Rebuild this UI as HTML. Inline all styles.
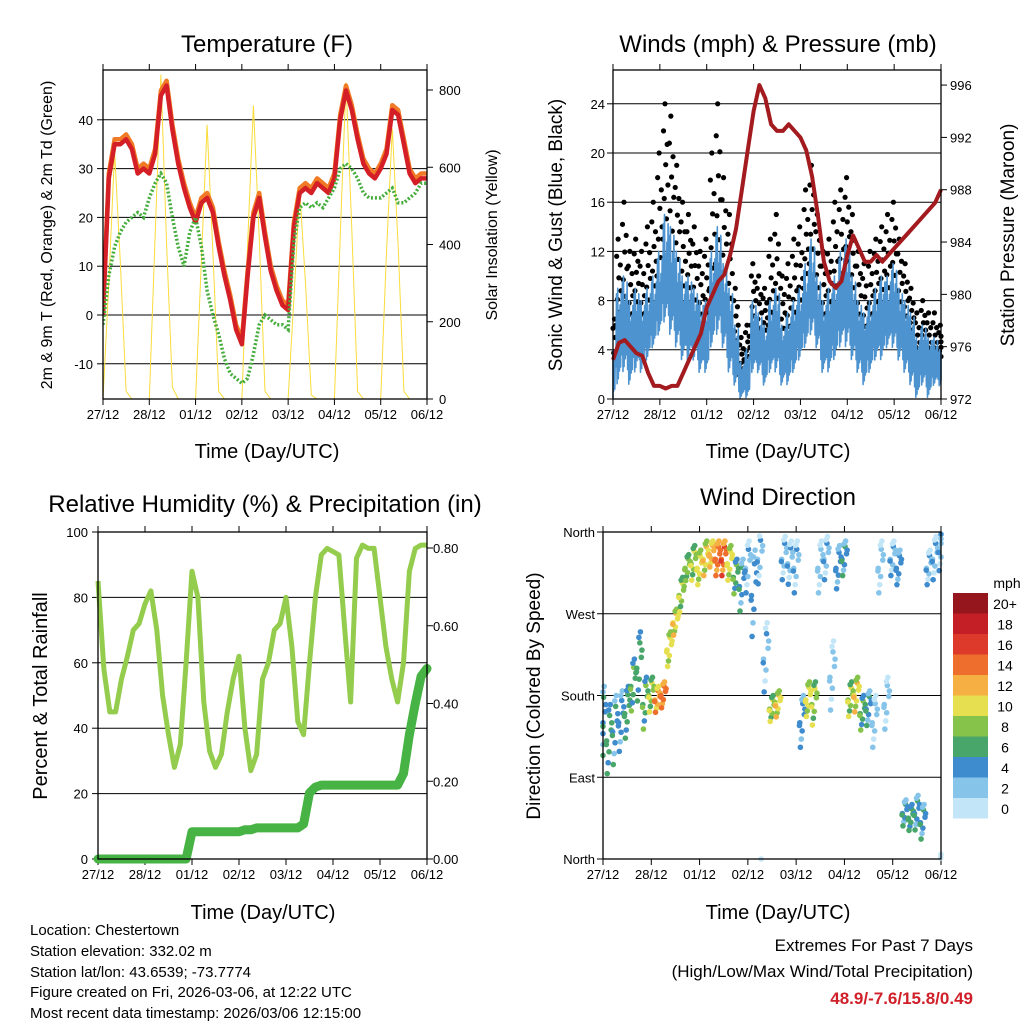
<!DOCTYPE html>
<html><head><meta charset="utf-8"><style>
html,body{margin:0;padding:0;background:#fff;}
svg{display:block;font-family:"Liberation Sans",sans-serif;}
</style></head><body>
<svg id="chart" width="1024" height="1024" viewBox="0 0 1024 1024" xmlns="http://www.w3.org/2000/svg">
<rect width="1024" height="1024" fill="#fff"/>
<g id="p1"></g>
<g id="p2"></g>
<g id="p3"></g>
<g id="p4"></g>
<text x="267" y="52" font-size="24" text-anchor="middle">Temperature (F)</text>
<text x="778" y="52" font-size="24" text-anchor="middle">Winds (mph) &amp; Pressure (mb)</text>
<text x="265" y="512" font-size="24" text-anchor="middle">Relative Humidity (%) &amp; Precipitation (in)</text>
<text x="778" y="505" font-size="24" text-anchor="middle">Wind Direction</text>
<text x="267" y="458" font-size="20" text-anchor="middle">Time (Day/UTC)</text>
<text x="778" y="458" font-size="20" text-anchor="middle">Time (Day/UTC)</text>
<text x="263" y="919" font-size="20" text-anchor="middle">Time (Day/UTC)</text>
<text x="778" y="919" font-size="20" text-anchor="middle">Time (Day/UTC)</text>
<text transform="translate(52,235) rotate(-90)" font-size="16" text-anchor="middle">2m &amp; 9m T (Red, Orange) &amp; 2m Td (Green)</text>
<text transform="translate(497,235) rotate(-90)" font-size="16" text-anchor="middle">Solar Insolation (Yellow)</text>
<text transform="translate(562,235) rotate(-90)" font-size="19" text-anchor="middle">Sonic Wind &amp; Gust (Blue, Black)</text>
<text transform="translate(1014,235) rotate(-90)" font-size="19" text-anchor="middle">Station Pressure (Maroon)</text>
<text transform="translate(47,696) rotate(-90)" font-size="20" text-anchor="middle">Percent &amp; Total Rainfall</text>
<text transform="translate(540,696) rotate(-90)" font-size="19" text-anchor="middle">Direction (Colored By Speed)</text>
<g font-size="15">
<text x="30" y="935">Location: Chestertown</text>
<text x="30" y="956">Station elevation: 332.02 m</text>
<text x="30" y="977">Station lat/lon: 43.6539; -73.7774</text>
<text x="30" y="997">Figure created on Fri, 2026-03-06, at 12:22 UTC</text>
<text x="30" y="1018">Most recent data timestamp: 2026/03/06 12:15:00</text>
</g>
<g text-anchor="end">
<text x="973" y="951" font-size="17">Extremes For Past 7 Days</text>
<text x="973" y="977" font-size="17">(High/Low/Max Wind/Total Precipitation)</text>
<text x="973" y="1004" font-size="17" font-weight="bold" fill="#d0202a">48.9/-7.6/15.8/0.49</text>
</g>
</svg>
<script>
const dayLabels=["27/12","28/12","01/12","02/12","03/12","04/12","05/12","06/12"];
const tempT=[0,28,35,35,36,34,29,30,29,33,45,47,38,31,26,22,19,23,24,21,14,8,3,-3,-6,8,20,24,16,9,5,2,1,18,25,26,25,27,26,25,28,40,46,42,36,31,29,28,30,33,42,41,35,29,27,28,28];
const tempT9=[1,29,36,36,37,35,30,31,30,34,46,48,39,32,27,23,20,24,25,22,15,9,4,-2,-5,9,21,25,17,10,6,3,2,19,26,27,26,28,27,26,29,41,47,43,37,32,30,29,31,34,43,42,36,30,28,29,29];
const dewT=[-2,8,14,17,19,20,21,20,24,27,29,27,20,14,10,17,20,14,5,0,-4,-9,-12,-13,-14,-13,-8,-2,0,-1,-2,-2,-3,15,22,23,22,23,22,24,26,30,31,30,28,25,24,24,24,25,26,23,23,24,25,27,27];
const solar=[0,300,640,350,20,0,0,0, 0,420,840,400,30,0,0,0, 0,360,710,380,20,0,0,0, 0,400,760,420,20,0,0,0, 0,260,540,300,10,0,0,0, 0,420,820,440,20,0,0,0, 0,380,700,400,20,0,0,0, 0];
const pressure=[975,976.3,976.5,976,975.5,975.3,974,973,973,972.8,973,973,974,975,976,977,979,980,981,981.5,983,985,988,991,994,996,995,993,992.5,992.5,993,992.5,992,991,989,986,982.5,981,980.5,981,983,984.5,983.5,982.5,982.5,983,982.5,983,983.5,984,984.5,985,985.5,986,986.5,987,988];
const windHi=[4,9,10,8,9,8,9,10,12,15,14,12,10,10,9,8,8,12,14,11,9,6,3,4,8,7,6,8,9,6,7,8,9,11,13,10,8,9,10,12,13,10,8,7,8,9,10,10,11,9,8,7,5,6,5,5,4];
const windLo=[0,1,2,1,2,2,3,4,5,6,5,4,3,3,3,2,2,4,5,4,2,1,0,0,2,2,1,2,2,1,1,2,3,4,5,4,2,2,3,4,4,3,2,1,2,3,3,4,4,3,2,1,0,1,0,1,1];
const gustHi=[8,13,16,12,13,12,14,16,20,24,23,19,16,15,14,12,13,20,24,18,15,9,5,6,11,10,9,13,15,10,11,13,14,17,19,15,12,13,16,17,18,15,12,11,12,13,14,15,16,13,11,9,7,8,7,7,6];
const gustLo=[3,6,7,6,7,6,7,8,10,13,12,10,8,8,7,6,6,9,11,9,7,4,2,3,6,5,5,6,7,5,5,6,7,9,11,8,6,7,8,9,10,8,6,5,6,7,8,8,9,7,6,5,3,4,3,3,3];
const rh=[85,58,45,45,55,62,70,72,78,82,70,50,38,28,35,60,88,80,48,33,28,32,45,55,62,40,27,32,55,60,70,72,80,65,42,38,60,80,93,95,94,93,70,48,92,96,95,95,80,65,55,48,60,88,95,96,96];
const precip=[0,0,0,0,0,0,0,0,0,0,0,0,0,0,0,0,0.07,0.07,0.07,0.07,0.07,0.07,0.07,0.07,0.07,0.075,0.075,0.08,0.08,0.08,0.08,0.08,0.08,0.08,0.08,0.09,0.17,0.185,0.19,0.19,0.19,0.19,0.19,0.19,0.19,0.19,0.19,0.19,0.19,0.19,0.19,0.19,0.22,0.32,0.4,0.47,0.49];
const dirC=[150,130,140,150,160,190,210,170,180,175,180,230,260,290,320,325,320,330,335,330,330,325,310,300,320,290,330,220,165,170,330,325,320,150,175,170,320,330,200,320,330,175,180,160,165,150,320,170,330,320,50,45,50,40,320,330,340];
const dirS=[40,40,40,35,30,30,40,30,20,15,15,20,15,20,15,20,20,20,15,20,20,20,20,30,30,50,30,40,15,15,25,25,30,30,20,25,30,25,40,25,20,20,20,20,20,30,30,30,20,20,15,15,20,20,20,25,25];
const dirSpd=[5,6,5,4,6,7,6,7,9,13,14,10,11,9,8,9,10,11,12,14,15,10,7,5,3,4,3,3,9,11,3,3,3,4,10,9,2,3,2,4,5,9,11,7,5,2,2,2,3,4,5,6,5,5,3,3,3];
const speedBins=["0","2","4","6","8","10","12","14","16","18","20+"];
const speedColors=["#c2e6f7","#86c4ea","#3e8bcd","#49a66a","#86c34a","#e6df4f","#f6af42","#ee6e2e","#dd3a2b","#c41f27","#96161e"];

const NS="http://www.w3.org/2000/svg";
function mk(parent,tag,attrs){const e=document.createElementNS(NS,tag);for(const k in attrs)e.setAttribute(k,attrs[k]);parent.appendChild(e);return e;}
function txt(parent,x,y,s,anchor,size){const t=mk(parent,"text",{x:x,y:y,"font-size":size||13,"text-anchor":anchor||"middle"});t.textContent=s;return t;}
const NDAYS=7, STEP=1/8;

function frame(g,L,R,T,B,name){
  const r=mk(g,"rect",{x:L,y:T,width:R-L,height:B-T,fill:"none",stroke:"#000","stroke-width":1.3});
  
  
}
function xAxis(g,L,R,T,B){
  const xs=d=>L+(R-L)*d/NDAYS;
  dayLabels.forEach((lab,i)=>{
    const x=xs(i);
    mk(g,"line",{x1:x,x2:x,y1:B,y2:B+6,stroke:"#000"});
    mk(g,"line",{x1:x,x2:x,y1:T,y2:T-6,stroke:"#000"});
    const t=txt(g,x,B+20,lab,"middle",13);
    
    
  });
  return xs;
}
function gridY(g,L,R,y){mk(g,"line",{x1:L,x2:R,y1:y,y2:y,stroke:"#000","stroke-width":1});}
function pathFrom(xs,ys,arr){return arr.map((v,i)=>(i?"L":"M")+xs(i*STEP).toFixed(1)+","+ys(v).toFixed(1)).join("");}

// Panel 1 temperature
(function(){
  const g=document.getElementById("p1");
  const L=103,R=427,T=70,B=399;
  const y=v=>315-v*4.88;
  const ys=v=>399-v*0.38625;
  [-10,0,10,20,30,40].forEach(v=>{gridY(g,L,R,y(v));mk(g,"line",{x1:L-6,x2:L,y1:y(v),y2:y(v),stroke:"#000"});const t=txt(g,L-10,y(v)+5,String(v),"end",13);});
  [0,200,400,600,800].forEach(v=>{mk(g,"line",{x1:R,x2:R+6,y1:ys(v),y2:ys(v),stroke:"#000"});const t=txt(g,R+12,ys(v)+5,String(v),"start",13);});
  const xs=xAxis(g,L,R,T,B);
  const clip=mk(g,"clipPath",{id:"c1"});mk(clip,"rect",{x:L,y:T,width:R-L,height:B-T});
  const s=mk(g,"path",{d:pathFrom(xs,ys,solar),fill:"none",stroke:"#f9dc3a","stroke-width":1,"clip-path":"url(#c1)"});
  
  
  const o=mk(g,"path",{d:pathFrom(xs,y,tempT9),fill:"none",stroke:"#f07a25","stroke-width":4.5,"stroke-linejoin":"round","clip-path":"url(#c1)"});
  
  
  const r=mk(g,"path",{d:pathFrom(xs,y,tempT),fill:"none",stroke:"#d41f26","stroke-width":4.5,"stroke-linejoin":"round","clip-path":"url(#c1)"});
  
  
  const d=mk(g,"path",{d:pathFrom(xs,y,dewT),fill:"none",stroke:"#45ad3c","stroke-width":3.5,"stroke-dasharray":"2 2","clip-path":"url(#c1)"});
  
  
  frame(g,L,R,T,B,"temperature-plot-frame");
})();

// Panel 2 winds
(function(){
  const g=document.getElementById("p2");
  const L=613,R=941,T=70,B=399;
  const y=v=>399-v*12.3;
  const yp=p=>399-(p-972)*13.08;
  [4,8,12,16,20,24].forEach(v=>gridY(g,L,R,y(v)));
  [0,4,8,12,16,20,24].forEach(v=>{mk(g,"line",{x1:L-6,x2:L,y1:y(v),y2:y(v),stroke:"#000"});const t=txt(g,L-8,y(v)+5,String(v),"end",13);});
  [972,976,980,984,988,992,996].forEach(v=>{mk(g,"line",{x1:R,x2:R+6,y1:yp(v),y2:yp(v),stroke:"#000"});const t=txt(g,R+9,yp(v)+5,String(v),"start",13);});
  const xs=xAxis(g,L,R,T,B);
  const jit=[0,0.8,0.3,1,0.55,0.15,0.7,0.4];
  gustHi.forEach((hi,i)=>{
    for(let k=0;k<8;k++){
      const d=Math.min(NDAYS,(i+k/8-0.5)*STEP);if(d<0)continue;
      const v=gustLo[i]+(hi-gustLo[i])*jit[k];
      const c=mk(g,"circle",{cx:xs(d),cy:y(v),r:2.6,fill:"#000"});
      
      
    }
  });
  let dd="";
  windHi.forEach((hi,i)=>{
    for(let k=0;k<10;k++){
      const d=Math.max(0,Math.min(NDAYS,(i+k/10-0.5)*STEP));
      const v=(k%2)?hi*(0.75+0.25*jit[k%8]):windLo[i]+ (hi-windLo[i])*0.2*jit[(k+3)%8];
      dd+=(dd?"L":"M")+xs(d).toFixed(1)+","+y(v).toFixed(1);
    }
  });
  const w=mk(g,"path",{d:dd,fill:"none",stroke:"#4d93d0","stroke-width":1.6,"stroke-linejoin":"round"});
  
  
  const p=mk(g,"path",{d:pathFrom(xs,yp,pressure),fill:"none",stroke:"#a31b1f","stroke-width":4,"stroke-linejoin":"round"});
  
  
  frame(g,L,R,T,B,"winds-plot-frame");
})();

// Panel 3 humidity
(function(){
  const g=document.getElementById("p3");
  const L=98,R=427,T=532,B=859;
  const y=v=>859-v*3.27;
  const yp=v=>859-v*388.75;
  [20,40,60,80].forEach(v=>gridY(g,L,R,y(v)));
  [0,20,40,60,80,100].forEach(v=>{mk(g,"line",{x1:L-6,x2:L,y1:y(v),y2:y(v),stroke:"#000"});const t=txt(g,L-10,y(v)+5,String(v),"end",13);});
  [0,0.2,0.4,0.6,0.8].forEach(v=>{mk(g,"line",{x1:R,x2:R+6,y1:yp(v),y2:yp(v),stroke:"#000"});const t=txt(g,R+6,yp(v)+5,v.toFixed(2),"start",13);});
  const xs=xAxis(g,L,R,T,B);
  const h=mk(g,"path",{d:pathFrom(xs,y,rh),fill:"none",stroke:"#94cc4e","stroke-width":5,"stroke-linejoin":"round"});
  
  
  const p=mk(g,"path",{d:pathFrom(xs,yp,precip),fill:"none",stroke:"#47b344","stroke-width":9,"stroke-linejoin":"round","stroke-linecap":"round"});
  
  
  frame(g,L,R,T,B,"humidity-plot-frame");
})();

// Panel 4 wind direction
(function(){
  const g=document.getElementById("p4");
  const L=603,R=941,T=532,B=859;
  const y=v=>859-v/360*327;
  [90,180,270].forEach(v=>gridY(g,L,R,y(v)));
  [[360,"North"],[270,"West"],[180,"South"],[90,"East"],[0,"North"]].forEach(([v,s])=>{mk(g,"line",{x1:L-6,x2:L,y1:y(v),y2:y(v),stroke:"#000"});const t=txt(g,L-8,y(v)+5,s,"end",13);});
  const xs=xAxis(g,L,R,T,B);
  const jx=[0.1,0.6,0.35,0.85,0.2,0.7,0.5,0.95,0.05,0.45];
  const jy=[0,0.7,-0.6,0.3,-0.9,1,-0.3,0.5,-0.1,0.85];
  const js=[0,1,-1,0,1,-1,0,0,1,-1];
  dirC.forEach((c,i)=>{
    for(let k=0;k<10;k++){
      const d=Math.max(0,Math.min(NDAYS,(i+jx[k]-0.5)*STEP));
      let v=c+dirS[i]*jy[k];v=((v%360)+360)%360;
      const sp=Math.max(0,dirSpd[i]+js[k]*1.5);
      const ci=Math.min(10,Math.floor(sp/2));
      const pt=mk(g,"circle",{cx:xs(d),cy:y(v),r:2.8,fill:speedColors[ci]});
      
      
    }
  });
  frame(g,L,R,T,B,"direction-plot-frame");
  const cb=mk(g,"g",{});
  
  
  const bx=953,by0=593,bh=20.5;
  speedBins.slice().reverse().forEach((lab,j)=>{
    const idx=10-j;
    mk(cb,"rect",{x:bx,y:by0+j*bh,width:35,height:bh,fill:speedColors[idx]});
    const t=txt(cb,1005,by0+j*bh+16,lab,"middle",14);
    
    
  });
  const m=txt(cb,1007,588,"mph","middle",14);
  
  
})();
</script>
</body></html>
